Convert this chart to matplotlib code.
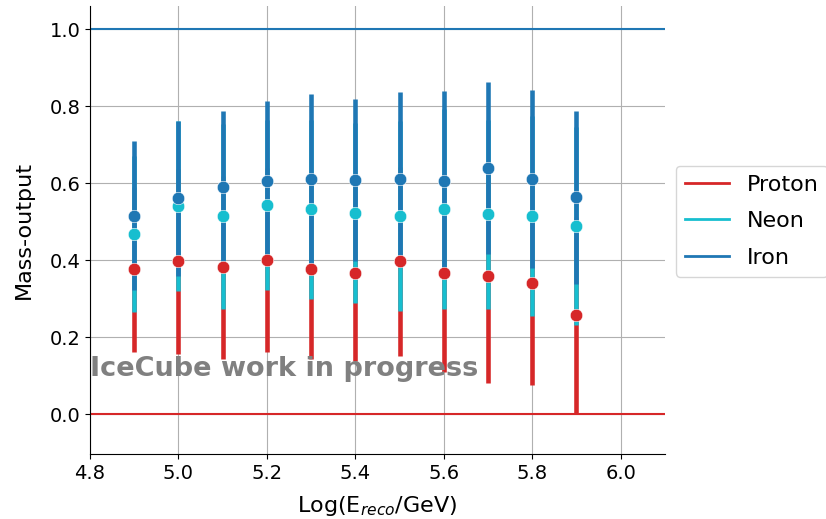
import matplotlib
matplotlib.use("Agg")
import matplotlib.pyplot as plt
from matplotlib.lines import Line2D

# reconstructed energy bins, log10(E/GeV)
log_e = [4.9, 5.0, 5.1, 5.2, 5.3, 5.4, 5.5, 5.6, 5.7, 5.8, 5.9]

# mean network output and spread per primary
proton_mean = [0.376, 0.397, 0.382, 0.401, 0.376, 0.368, 0.397, 0.367, 0.358, 0.340, 0.257]
proton_err = [0.214, 0.241, 0.238, 0.239, 0.233, 0.229, 0.246, 0.257, 0.277, 0.265, 0.255]

neon_mean = [0.468, 0.541, 0.514, 0.543, 0.532, 0.523, 0.514, 0.532, 0.519, 0.514, 0.489]
neon_err = [0.202, 0.221, 0.241, 0.221, 0.233, 0.234, 0.247, 0.260, 0.245, 0.260, 0.258]

iron_mean = [0.516, 0.561, 0.591, 0.607, 0.612, 0.609, 0.610, 0.607, 0.639, 0.610, 0.564]
iron_err = [0.193, 0.201, 0.198, 0.207, 0.221, 0.210, 0.227, 0.233, 0.224, 0.231, 0.225]

species = [
    ("Proton", proton_mean, proton_err, "tab:red"),
    ("Neon", neon_mean, neon_err, "tab:cyan"),
    ("Iron", iron_mean, iron_err, "tab:blue"),
]

fig = plt.figure(figsize=(8.26, 5.19), dpi=100)
ax = fig.add_axes([0.109, 0.125, 0.696, 0.863])

ax.axhline(0, color="tab:red", lw=1.5)
ax.axhline(1, color="tab:blue", lw=1.5)

for name, mean, err, col in species:
    ax.errorbar(log_e, mean, yerr=err, fmt="none", ecolor=col, elinewidth=3.3, zorder=2)
for name, mean, err, col in species:
    ax.plot(log_e, mean, "o", color=col, ms=9, mec="white", mew=0.4, zorder=3)

ax.text(4.8, 0.1, "IceCube work in progress", color="gray", fontsize=19.5,
        fontweight="bold", va="baseline", ha="left", zorder=4)

ax.set_xlim(4.8, 6.1)
ax.set_ylim(-0.104, 1.06)
ax.set_xticks([4.8, 5.0, 5.2, 5.4, 5.6, 5.8, 6.0])
ax.set_yticks([0.0, 0.2, 0.4, 0.6, 0.8, 1.0])
ax.tick_params(labelsize=14)
ax.grid(True, color="#b0b0b0", lw=0.8)
ax.spines["top"].set_visible(False)
ax.spines["right"].set_visible(False)

ax.set_xlabel("Log(E$_{reco}$/GeV)", fontsize=16, labelpad=8)
ax.set_ylabel("Mass-output", fontsize=16, labelpad=11)

handles = [Line2D([0], [0], color=col, lw=2) for _, _, _, col in species]
labels = [name for name, _, _, _ in species]
ax.legend(handles, labels, loc="center left", bbox_to_anchor=(1.0, 0.52),
          fontsize=16, frameon=True, labelspacing=0.75)

fig.savefig("out.png", dpi=100)
